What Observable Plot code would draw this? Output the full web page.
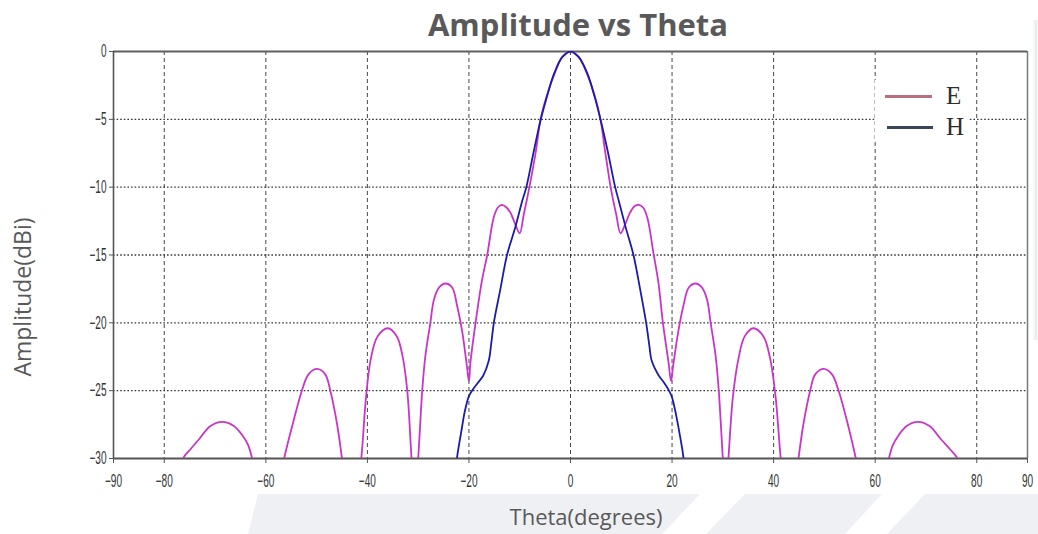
<!DOCTYPE html>
<html>
<head>
<meta charset="utf-8">
<script src="https://cdn.jsdelivr.net/npm/d3@7"></script>
<script src="https://cdn.jsdelivr.net/npm/@observablehq/plot@0.6"></script>
<style>
  html, body { margin: 0; padding: 0; background: #ffffff; }
  #wrap { position: relative; width: 1038px; height: 534px; overflow: hidden; }
  #bg { position: absolute; left: 0; top: 0; z-index: 0; }
  #chart { position: absolute; left: 0; top: 0; z-index: 1; }
  #chart svg { background: transparent; }
  .ovl { position: absolute; z-index: 2; white-space: nowrap; }
  #title { left: 0; width: 1156px; top: 4px; text-align: center; font-family: "Open Sans", sans-serif; font-weight: 700; font-size: 31px; color: #595959; line-height: 40px; }
  #xlabel { left: 0; width: 1172px; top: 501px; text-align: center; font-family: "Open Sans", sans-serif; font-size: 22px; color: #595959; line-height: 30px; }
  #ylabel { left: 22px; top: 297px; transform: translate(-50%, -50%) rotate(-90deg); font-family: "Open Sans", sans-serif; font-size: 23px; color: #595959; line-height: 30px; }
  #legend { left: 875px; top: 80px; width: 93px; height: 62px; background: #ffffff; }
  .lg-line { position: absolute; height: 3px; }
  .lg-text { position: absolute; font-family: "Liberation Serif", "DejaVu Serif", serif; font-size: 25px; color: #2e2e2e; line-height: 24px; }
</style>
</head>
<body>
<div id="wrap">
  <svg id="bg" width="1038" height="534">
    <polygon points="258,494 700,494 662,534 248,534" fill="#eef0f4"/>
    <polygon points="745,494 882,494 845,534 706,534" fill="#eef0f4"/>
    <polygon points="925,494 1038,494 1038,534 887,534" fill="#eef0f4"/>
    <polygon points="1033,20 1038,20 1038,340 1033,340" fill="#f4f5f7"/>
    <line x1="1036" y1="20" x2="1036" y2="340" stroke="#e2e4e8" stroke-width="1"/>
  </svg>
  <div id="chart"></div>
  <div id="title" class="ovl">Amplitude vs Theta</div>
  <div id="ylabel" class="ovl">Amplitude(dBi)</div>
  <div id="xlabel" class="ovl">Theta(degrees)</div>
  <div id="legend" class="ovl">
    <div class="lg-line" style="left:10px; top:15px; width:47px; background:#b96f80;"></div>
    <div class="lg-text" style="left:71px; top:4px;">E</div>
    <div class="lg-line" style="left:12px; top:46px; width:46px; background:#3a4659;"></div>
    <div class="lg-text" style="left:71px; top:35px;">H</div>
  </div>
</div>
<script>
// E-plane pattern (theta in degrees, amplitude in dBi)
const eTheta = [-77.5,-76.3,-74.8,-73.2,-70.9,-68.6,-66.3,-64.6,-63.5,-62.7,-59.5,
  -56.4,-54.8,-52.9,-51.6,-49.9,-48.3,-47.3,-46.0,-45.0,-43.1,
  -41.2,-40.3,-39.3,-38.0,-36.0,-34.2,-33.0,-32.1,-31.3,-30.65,
  -30.0,-29.2,-28.6,-27.6,-26.9,-25.9,-24.6,-23.3,-22.3,-21.3,-20.4,-20.0,
  -19.7,-18.7,-17.4,-16.4,-15.1,-14.3,-13.5,-12.6,-11.8,-10.8,-10.0,
  -9.2,-8.2,-6.8,-5.9,-4.7,-3.1,-1.6,0,1.6,3.2,4.8,5.9,6.8,8.0,9.0,
  9.85,10.7,11.7,12.6,13.5,14.3,15.1,16.4,17.3,18.2,19.3,19.8,
  20.2,21.2,22.2,23.3,24.6,25.9,26.9,27.6,28.6,29.2,30.0,30.55,
  31.1,32.0,33.1,34.3,36.0,38.0,39.3,40.4,41.4,43.1,
  44.9,45.9,47.2,48.2,49.9,51.5,52.8,54.7,56.2,59.5,
  62.7,63.5,64.6,66.2,68.4,70.7,73.0,74.7,76.2,77.4];
const eAmp = [-32,-30,-29.3,-28.6,-27.6,-27.3,-27.6,-28.3,-29.0,-30,-36,
  -30,-27.6,-25.0,-23.8,-23.4,-23.8,-25.0,-27.4,-30,-36,
  -30,-25.6,-22.6,-21.0,-20.4,-21.0,-22.6,-25.2,-30,-33,
  -30,-25.0,-22.5,-20.0,-18.3,-17.4,-17.1,-17.4,-18.8,-20.7,-23.2,-24.3,
  -22.9,-20.0,-16.8,-15.0,-12.2,-11.5,-11.3,-11.5,-11.9,-12.8,-13.4,
  -12.0,-10.2,-7.3,-5.0,-3.3,-1.6,-0.4,0,-0.4,-1.6,-3.3,-5.0,-7.3,-10.2,-12.0,
  -13.4,-12.8,-11.9,-11.4,-11.3,-11.5,-12.2,-15.0,-17.0,-20.0,-22.9,-24.3,
  -23.2,-20.7,-18.8,-17.4,-17.1,-17.4,-18.3,-20.0,-22.5,-25.0,-30,-33,
  -30,-25.4,-22.6,-21.0,-20.4,-21.0,-22.6,-25.5,-30,-36,
  -30,-27.4,-25.0,-23.8,-23.4,-23.8,-25.0,-27.6,-30,-36,
  -30,-29.0,-28.3,-27.6,-27.3,-27.6,-28.6,-29.3,-30,-32];

// H-plane pattern
const hTheta = [-23.0,-22.3,-21.5,-20.8,-20.0,-19.2,-18.2,-17.2,-16.1,-15.6,-15.1,
  -13.8,-12.5,-10.9,-9.5,-8.7,-7.2,-5.85,-4.7,-3.2,-1.6,0,
  1.6,3.3,4.8,5.9,7.3,8.8,9.5,10.9,12.4,13.7,14.9,15.5,16.0,
  17.4,18.4,19.4,20.0,20.8,21.5,22.2,22.8];
const hAmp = [-32,-29.8,-28.0,-26.5,-25.4,-24.9,-24.4,-23.9,-22.8,-21.5,-20.0,
  -17.5,-15.0,-13.0,-11.0,-10.0,-7.3,-5.0,-3.4,-1.6,-0.4,0,
  -0.4,-1.6,-3.4,-5.0,-7.3,-10.0,-11.0,-13.0,-15.0,-17.5,-20.0,-21.6,-22.8,
  -23.9,-24.4,-25.0,-25.5,-26.8,-28.2,-29.8,-32];

const xTicks = [-90,-80,-60,-40,-20,0,20,40,60,80,90];
const yTicks = [0,-5,-10,-15,-20,-25,-30];
const xGrid = [-80,-60,-40,-20,0,20,40,60,80];
const yGrid = [-5,-10,-15,-20,-25];

const E = eTheta.map((t, i) => ({theta: t, amp: eAmp[i]}));
const H = hTheta.map((t, i) => ({theta: t, amp: hAmp[i]}));

const chart = Plot.plot({
  width: 1038,
  height: 534,
  marginTop: 51,
  marginBottom: 76,
  marginLeft: 113,
  marginRight: 11,
  style: {fontFamily: "'Liberation Sans', Arial, sans-serif", fontSize: "18px", color: "#333", background: "transparent"},
  x: {domain: [-90, 90], ticks: xTicks, tickSize: 5, tickPadding: 11, label: null},
  y: {domain: [-30, 0], ticks: yTicks, tickSize: 4, tickPadding: 3, label: null},
  marks: [
    Plot.ruleX(xGrid, {stroke: "#333", strokeWidth: 1, strokeDasharray: "4,3", strokeOpacity: 0.9}),
    Plot.ruleY(yGrid, {stroke: "#222", strokeWidth: 1.4, strokeDasharray: "1.6,2", strokeOpacity: 0.9}),
    Plot.ruleX([90], {stroke: "#7a7a7a", strokeWidth: 1.5}),
    Plot.ruleY([0], {stroke: "#5f5f5f", strokeWidth: 2}),
    Plot.ruleX([-90], {stroke: "#555", strokeWidth: 1.6}),
    Plot.ruleY([-30], {stroke: "#555", strokeWidth: 1.8}),
    Plot.line(E, {x: "theta", y: "amp", stroke: "#c935c9", strokeWidth: 1.8, curve: "catmull-rom", clip: true}),
    Plot.line(H, {x: "theta", y: "amp", stroke: "#1c1ca6", strokeWidth: 1.8, curve: "catmull-rom", clip: true})
  ]
});

// condensed tick labels
chart.querySelectorAll('g[aria-label*="axis"] text').forEach(t => {
  const x = +(t.getAttribute("x") || 0);
  const tr = t.getAttribute("transform") || "";
  t.setAttribute("x", 0);
  t.setAttribute("transform", `${tr} translate(${x},0) scale(0.56,1)`);
});
chart.querySelectorAll('g[aria-label*="axis"] line, g[aria-label*="axis"] path').forEach(l => {
  l.setAttribute("stroke", "#555");
});

document.getElementById("chart").appendChild(chart);
</script>
</body>
</html>
